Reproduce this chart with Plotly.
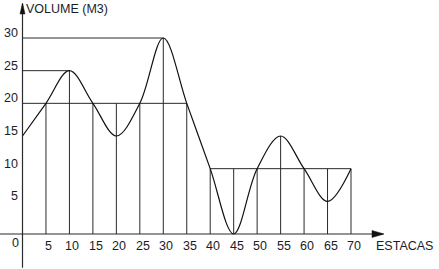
import plotly.graph_objects as go

# ---- data ----
estacas = [0, 5, 10, 15, 20, 25, 30, 35, 40, 45, 50, 55, 60, 65, 70]
# volume curve value at each station
volume = [15, 20, 25, 20, 15, 20, 30, 20, 10, 0, 10, 15, 10, 5, 10]
# top of each vertical station line
station_top = [None, 20, 25, 20, 20, 20, 30, 20, 10, 10, 10, 15, 10, 10, 10]
# horizontal reference lines: (level, x_start, x_end)
h_levels = [30, 25, 20, 10]
h_start = [0, 0, 0, 40]
h_end = [30, 10, 35, 70]
y_ticks = [5, 10, 15, 20, 25, 30]
x_ticks = [5, 10, 15, 20, 25, 30, 35, 40, 45, 50, 55, 60, 65, 70]

W, H = 439, 269
x0_px, px_x = 22.5, (351 - 22.5) / 70.0
y0_px, px_y = 234.0, (234 - 38) / 30.0
xr = [-x0_px / px_x, (W - x0_px) / px_x]
yr = [-(H - y0_px) / px_y, y0_px / px_y]

FONT = "Liberation Sans Narrow, Arial Narrow, Liberation Sans, sans-serif"
FS = 12.5
TXT = "#1c1c28"
LINE = "#2a2a2a"

fig = go.Figure()

# vertical station lines
vx, vy = [], []
for x, t in zip(estacas, station_top):
    if t is None:
        continue
    vx += [x, x, None]
    vy += [0, t, None]
fig.add_trace(go.Scatter(x=vx, y=vy, mode="lines", line=dict(color=LINE, width=1),
                         hoverinfo="skip", showlegend=False))

# horizontal lines
hx, hy = [], []
for lv, a, b in zip(h_levels, h_start, h_end):
    hx += [a, b, None]
    hy += [lv, lv, None]
fig.add_trace(go.Scatter(x=hx, y=hy, mode="lines", line=dict(color=LINE, width=1),
                         hoverinfo="skip", showlegend=False))

# curve
fig.add_trace(go.Scatter(x=estacas, y=volume, mode="lines",
                         line=dict(color="#111111", width=1.2, shape="spline", smoothing=1.0),
                         hoverinfo="skip", showlegend=False))

# axes lines
fig.add_shape(type="line", x0=0, x1=0, y0=yr[0] + 0.2, y1=yr[1] - 0.6,
              line=dict(color=LINE, width=1.2))
fig.add_shape(type="line", x0=xr[0], x1=(383 - x0_px) / px_x, y0=0, y1=0,
              line=dict(color=LINE, width=1.2))
# arrow heads
ax_tip = (384 - x0_px) / px_x
ax_base = (372 - x0_px) / px_x
dy = 3.5 / px_y
fig.add_shape(type="path", path=f"M {ax_tip} 0 L {ax_base} {dy} L {ax_base} {-dy} Z",
              fillcolor="#111111", line=dict(color="#111111", width=0.5))
ay_tip = (y0_px - 3) / px_y
ay_base = (y0_px - 14) / px_y
dx = 2.5 / px_x
fig.add_shape(type="path", path=f"M 0 {ay_tip} L {dx} {ay_base} L {-dx} {ay_base} Z",
              fillcolor="#111111", line=dict(color="#111111", width=0.5))

# tick labels
for v in y_ticks:
    fig.add_annotation(x=0, y=v, text=str(v), showarrow=False, xanchor="right", yanchor="middle",
                       xshift=-3, yshift=5, font=dict(family=FONT, size=FS, color=TXT))
fig.add_annotation(x=0, y=0, text="0", showarrow=False, xanchor="right", yanchor="top",
                   xshift=-2, yshift=0, font=dict(family=FONT, size=FS, color=TXT))
for v in x_ticks:
    fig.add_annotation(x=v, y=0, text=str(v), showarrow=False, xanchor="center", yanchor="top",
                       xshift=3, yshift=-3, font=dict(family=FONT, size=FS, color=TXT))

fig.add_annotation(x=0, y=ay_tip, text="VOLUME (M3)", showarrow=False, xanchor="left", yanchor="top",
                   xshift=1, yshift=3, font=dict(family=FONT, size=FS, color=TXT))
fig.add_annotation(x=(374 - x0_px) / px_x, y=0, text="ESTACAS", showarrow=False, xanchor="left",
                   yanchor="top", yshift=-3, font=dict(family=FONT, size=FS, color=TXT))

fig.update_xaxes(range=xr, visible=False, fixedrange=True)
fig.update_yaxes(range=yr, visible=False, fixedrange=True)
fig.update_layout(width=W, height=H, margin=dict(l=0, r=0, t=0, b=0),
                  plot_bgcolor="white", paper_bgcolor="white")
fig.write_html("out.html")
